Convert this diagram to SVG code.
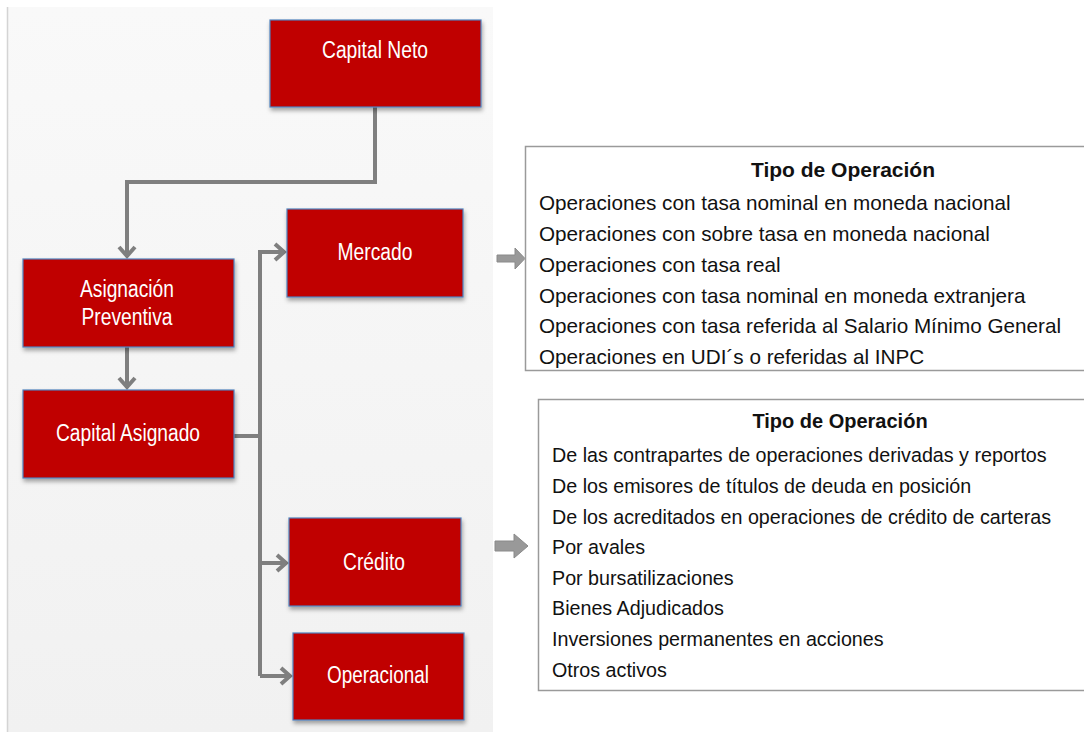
<svg xmlns="http://www.w3.org/2000/svg" width="1084" height="732" viewBox="0 0 1084 732">
<defs>
<linearGradient id="bg" x1="0" y1="0" x2="0" y2="1">
<stop offset="0" stop-color="#f9f9f9"/>
<stop offset="1" stop-color="#f1f1f1"/>
</linearGradient>
<filter id="sh" x="-10%" y="-10%" width="120%" height="130%">
<feDropShadow dx="1" dy="3" stdDeviation="2" flood-color="#000" flood-opacity="0.35"/>
</filter>
<marker id="chev" markerUnits="userSpaceOnUse" viewBox="0 0 14 20" refX="12" refY="10" markerWidth="14" markerHeight="20" orient="auto">
<path d="M2,2 L11,10 L2,18" fill="none" stroke="#7f7f7f" stroke-width="4"/>
</marker>
<style>
.node rect{fill:#c00000;stroke:#4f81bd;stroke-width:1.2;}
.nt{font-family:"Liberation Sans Narrow","Arial Narrow","Liberation Sans",sans-serif;font-size:23px;fill:#ffffff;text-anchor:middle;}
.conn{fill:none;stroke:#7f7f7f;stroke-width:4;}
.blk{fill:#999999;stroke:#8a8a8a;stroke-width:1;}
.tbox{fill:#ffffff;stroke:#9a9a9a;stroke-width:1.5;}
.tt{font-family:"Liberation Sans",Arial,sans-serif;fill:#111111;}
.th{font-family:"Liberation Sans",Arial,sans-serif;font-weight:bold;fill:#111111;text-anchor:middle;}
#tipo-mercado .tt{font-size:20.7px;}
#tipo-mercado .th{font-size:21px;}
#tipo-credito .tt{font-size:19.7px;}
#tipo-credito .th{font-size:20px;}
</style>
</defs>
<rect x="0" y="0" width="1084" height="732" fill="#ffffff"/>
<rect id="panel" x="7" y="7" width="486" height="725" fill="url(#bg)"/>
<line x1="7.5" y1="7" x2="7.5" y2="732" stroke="#d4d4d4" stroke-width="1.5"/>

<g id="connectors">
<path class="conn" d="M375,107 V182 H127 V257" marker-end="url(#chev)"/>
<path class="conn" d="M127,347 V388" marker-end="url(#chev)"/>
<path class="conn" d="M234,436 H260" stroke-width="5"/>
<path class="conn" d="M260,676 V252 H285" marker-end="url(#chev)"/>
<path class="conn" d="M260,563 H287" marker-end="url(#chev)"/>
<path class="conn" d="M260,676 H291" marker-end="url(#chev)"/>
<path class="blk" d="M497,255 H515 V248 L525,258.5 L515,269 V262 H497 Z"/>
<path class="blk" d="M495,541 H514 V534 L528,546 L514,558 V551 H495 Z"/>
</g>

<g id="capital-neto" class="node">
<rect x="270" y="20" width="211" height="87" filter="url(#sh)"/>
<text class="nt" x="375" y="58" textLength="106" lengthAdjust="spacingAndGlyphs">Capital Neto</text>
</g>
<g id="asignacion-preventiva" class="node">
<rect x="23" y="259" width="211" height="88" filter="url(#sh)"/>
<text class="nt" x="127" y="297" textLength="94" lengthAdjust="spacingAndGlyphs">Asignación</text>
<text class="nt" x="127" y="325" textLength="91" lengthAdjust="spacingAndGlyphs">Preventiva</text>
</g>
<g id="capital-asignado" class="node">
<rect x="23" y="390" width="211" height="88" filter="url(#sh)"/>
<text class="nt" x="128" y="441" textLength="144" lengthAdjust="spacingAndGlyphs">Capital Asignado</text>
</g>
<g id="mercado" class="node">
<rect x="287" y="209" width="176" height="88" filter="url(#sh)"/>
<text class="nt" x="375" y="260" textLength="75" lengthAdjust="spacingAndGlyphs">Mercado</text>
</g>
<g id="credito" class="node">
<rect x="289" y="518" width="172" height="88" filter="url(#sh)"/>
<text class="nt" x="374" y="570" textLength="62" lengthAdjust="spacingAndGlyphs">Crédito</text>
</g>
<g id="operacional" class="node">
<rect x="293" y="633" width="171" height="87" filter="url(#sh)"/>
<text class="nt" x="378" y="683" textLength="102" lengthAdjust="spacingAndGlyphs">Operacional</text>
</g>

<g id="tipo-mercado">
<rect class="tbox" x="525.5" y="146.5" width="570" height="224"/>
<text class="th" x="843" y="177">Tipo de Operación</text>
<text class="tt" x="539" y="210">Operaciones con tasa nominal en moneda nacional</text>
<text class="tt" x="539" y="241">Operaciones con sobre tasa en moneda nacional</text>
<text class="tt" x="539" y="272">Operaciones con tasa real</text>
<text class="tt" x="539" y="303">Operaciones con tasa nominal en moneda extranjera</text>
<text class="tt" x="539" y="333">Operaciones con tasa referida al Salario Mínimo General</text>
<text class="tt" x="539" y="364">Operaciones en UDI´s o referidas al INPC</text>
</g>

<g id="tipo-credito">
<rect class="tbox" x="538.5" y="399.5" width="560" height="291"/>
<text class="th" x="840" y="428">Tipo de Operación</text>
<text class="tt" x="552" y="462">De las contrapartes de operaciones derivadas y reportos</text>
<text class="tt" x="552" y="493">De los emisores de títulos de deuda en posición</text>
<text class="tt" x="552" y="524">De los acreditados en operaciones de crédito de carteras</text>
<text class="tt" x="552" y="554">Por avales</text>
<text class="tt" x="552" y="585">Por bursatilizaciones</text>
<text class="tt" x="552" y="615">Bienes Adjudicados</text>
<text class="tt" x="552" y="646">Inversiones permanentes en acciones</text>
<text class="tt" x="552" y="677">Otros activos</text>
</g>
</svg>
